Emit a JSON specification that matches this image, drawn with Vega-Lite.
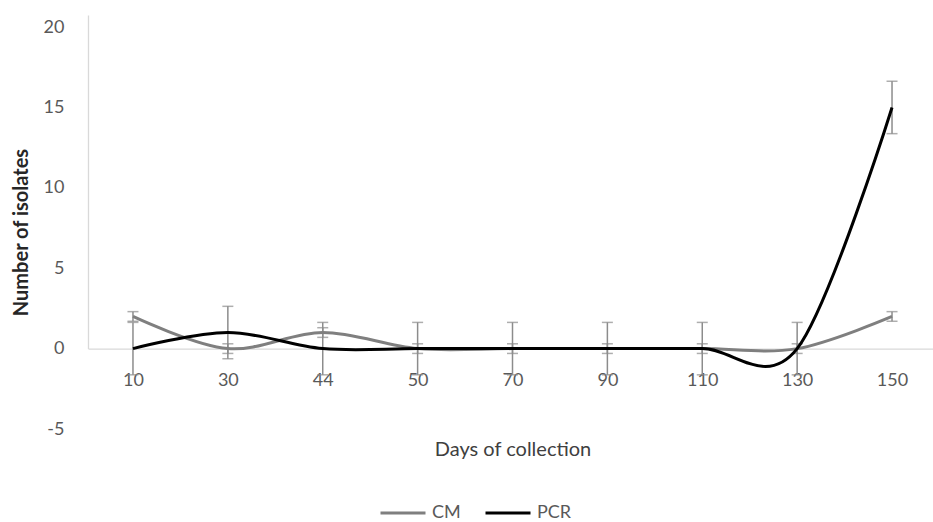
{
  "$schema": "https://vega.github.io/schema/vega-lite/v6.json",
  "width": 849,
  "height": 414,
  "autosize": "none",
  "padding": {"left": 88, "top": 15, "right": 0, "bottom": 93},
  "config": {"font": "Lato", "view": {"stroke": null}},
  "data": {
    "values": [
      {"day": "10", "series": "CM", "value": 2, "err": 0.3},
      {"day": "30", "series": "CM", "value": 0, "err": 0.3},
      {"day": "44", "series": "CM", "value": 1, "err": 0.3},
      {"day": "50", "series": "CM", "value": 0, "err": 0.3},
      {"day": "70", "series": "CM", "value": 0, "err": 0.3},
      {"day": "90", "series": "CM", "value": 0, "err": 0.3},
      {"day": "110", "series": "CM", "value": 0, "err": 0.3},
      {"day": "130", "series": "CM", "value": 0, "err": 0.3},
      {"day": "150", "series": "CM", "value": 2, "err": 0.3},
      {"day": "10", "series": "PCR", "value": 0, "err": 1.63},
      {"day": "30", "series": "PCR", "value": 1, "err": 1.63},
      {"day": "44", "series": "PCR", "value": 0, "err": 1.63},
      {"day": "50", "series": "PCR", "value": 0, "err": 1.63},
      {"day": "70", "series": "PCR", "value": 0, "err": 1.63},
      {"day": "90", "series": "PCR", "value": 0, "err": 1.63},
      {"day": "110", "series": "PCR", "value": 0, "err": 1.63},
      {"day": "130", "series": "PCR", "value": 0, "err": 1.63},
      {"day": "150", "series": "PCR", "value": 15, "err": 1.63}
    ]
  },
  "encoding": {
    "x": {
      "field": "day",
      "type": "ordinal",
      "sort": ["10", "30", "44", "50", "70", "90", "110", "130", "150"],
      "scale": {"type": "point", "padding": 0.474},
      "axis": {
        "title": "Days of collection",
        "offset": -80.4,
        "domainColor": "#d9d9d9",
        "domainWidth": 1.3,
        "ticks": false,
        "grid": false,
        "labelAngle": 0,
        "labelFontSize": 18,
        "labelColor": "#595959",
        "labelPadding": 23,
        "titleFontSize": 20,
        "titleFontWeight": "normal",
        "titleColor": "#404040",
        "titlePadding": 50
      }
    }
  },
  "layer": [
    {
      "mark": {
        "type": "errorbar",
        "color": "#8c8c8c",
        "thickness": 1.5,
        "ticks": {"size": 11, "color": "#8c8c8c", "strokeWidth": 1.5},
        "rule": {"color": "#8c8c8c", "strokeWidth": 1.5}
      },
      "encoding": {
        "y": {
          "field": "value",
          "type": "quantitative",
          "scale": {"domain": [-5, 20.75], "nice": false, "zero": false},
          "axis": {
            "title": "Number of isolates",
            "values": [-5, 0, 5, 10, 15, 20],
            "labelExpr": "replace(datum.label, '\u2212', '-')",
            "grid": false,
            "ticks": false,
            "domainColor": "#d9d9d9",
            "domainWidth": 1.3,
            "domainDash": [333.6, 80.4],
            "domainDashOffset": 333.6,
            "labelFontSize": 18,
            "labelColor": "#595959",
            "labelPadding": 24,
            "titleFontSize": 20,
            "titleFontWeight": "bold",
            "titleColor": "#262626",
            "titlePadding": 12,
            "titleY": 217
          }
        },
        "yError": {"field": "err"}
      }
    },
    {
      "mark": {"type": "line", "interpolate": "cardinal", "tension": 0, "strokeWidth": 3},
      "encoding": {
        "y": {"field": "value", "type": "quantitative"},
        "color": {
          "field": "series",
          "type": "nominal",
          "scale": {"domain": ["CM", "PCR"], "range": ["#7f7f7f", "#000000"]},
          "legend": {
            "orient": "none",
            "legendX": 291,
            "legendY": 474,
            "direction": "horizontal",
            "title": null,
            "symbolType": "stroke",
            "symbolSize": 2025,
            "symbolStrokeWidth": 3,
            "labelFontSize": 18,
            "labelColor": "#595959",
            "labelOffset": 5,
            "columnPadding": 18
          }
        }
      }
    }
  ]
}
